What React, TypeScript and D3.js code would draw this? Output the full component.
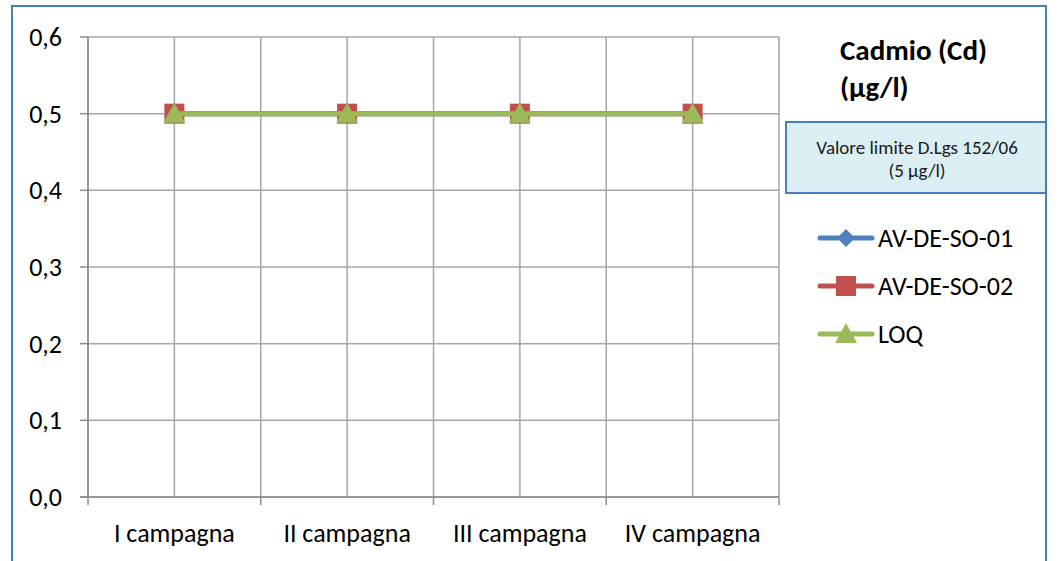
import * as d3 from "d3";

const categories = ["I campagna", "II campagna", "III campagna", "IV campagna"];
const yTicks = [0, 0.1, 0.2, 0.3, 0.4, 0.5, 0.6];
const seriesNames = ["AV-DE-SO-01", "AV-DE-SO-02", "LOQ"];
const so01 = [0.5, 0.5, 0.5, 0.5];
const so02 = [0.5, 0.5, 0.5, 0.5];
const loq = [0.5, 0.5, 0.5, 0.5];

const colors = ["#4f81bd", "#c0504d", "#9bbb59"];
const font = "Carlito, Lato, 'Open Sans', sans-serif";

function Marker({ kind, x, y, color }: { kind: number; x: number; y: number; color: string }) {
  if (kind === 0) {
    const s = 9;
    return <path d={`M${x},${y - s}L${x + s},${y}L${x},${y + s}L${x - s},${y}Z`} fill={color} />;
  }
  if (kind === 1) {
    return <rect x={x - 10} y={y - 10} width={20} height={20} fill={color} />;
  }
  return <path d={`M${x},${y - 11}L${x + 11},${y + 9}L${x - 11},${y + 9}Z`} fill={color} />;
}

export default function App() {
  const left = 88;
  const right = 779;
  const top = 37;
  const bottom = 497;

  const x = d3.scaleBand<string>().domain(categories).range([left, right]);
  const y = d3.scaleLinear().domain([0, 0.6]).range([bottom, top]);
  const cx = (c: string) => (x(c) ?? 0) + x.bandwidth() / 2;

  const line = d3
    .line<number>()
    .x((_, i) => cx(categories[i]))
    .y((d) => y(d));

  const data = [so01, so02, loq];

  // gridlines at every category boundary and centre
  const vGrid: number[] = [];
  categories.forEach((c) => {
    vGrid.push(x(c) ?? 0);
    vGrid.push(cx(c));
  });
  vGrid.push(right);

  return (
    <svg
      width={1062}
      height={561}
      style={{ position: "absolute", left: 0, top: 0, background: "#fff" }}
      fontFamily={font}
    >
      <rect x={12} y={6} width={1034} height={570} fill="#fff" stroke="#4a7ebb" strokeWidth={2} />

      {yTicks.map((t) => (
        <line key={"h" + t} x1={left} x2={right} y1={y(t)} y2={y(t)} stroke="#a6a6a6" strokeWidth={1.5} />
      ))}
      {vGrid.map((g, i) => (
        <line key={"v" + i} x1={g} x2={g} y1={top} y2={bottom} stroke="#a6a6a6" strokeWidth={1.5} />
      ))}

      <line x1={left} x2={left} y1={top} y2={bottom + 8} stroke="#8c8c8c" strokeWidth={1.5} />
      <line x1={left - 8} x2={right} y1={bottom} y2={bottom} stroke="#8c8c8c" strokeWidth={1.5} />
      {yTicks.map((t) => (
        <g key={"yt" + t}>
          <line x1={left - 8} x2={left} y1={y(t)} y2={y(t)} stroke="#8c8c8c" strokeWidth={1.5} />
          <text x={62} y={y(t)} dy="0.35em" textAnchor="end" fontSize={26} fill="#000">
            {t.toFixed(1).replace(".", ",")}
          </text>
        </g>
      ))}
      {categories.map((c) => (
        <g key={c}>
          <line x1={(x(c) ?? 0) + x.bandwidth()} x2={(x(c) ?? 0) + x.bandwidth()} y1={bottom} y2={bottom + 8} stroke="#8c8c8c" strokeWidth={1.5} />
          <text x={cx(c)} y={533} dy="0.35em" textAnchor="middle" fontSize={26} fill="#000">
            {c}
          </text>
        </g>
      ))}

      {data.map((vals, k) => (
        <g key={"s" + k}>
          <path d={line(vals) ?? ""} fill="none" stroke={colors[k]} strokeWidth={5} />
          {vals.map((v, i) => (
            <Marker key={i} kind={k} x={cx(categories[i])} y={y(v)} color={colors[k]} />
          ))}
        </g>
      ))}

      <text x={840} y={60} fontSize={29} fontWeight="bold" fill="#000">Cadmio (Cd)</text>
      <text x={840} y={97} fontSize={29} fontWeight="bold" fill="#000">(µg/l)</text>

      <rect x={786} y={122} width={260} height={71} fill="#dbeef4" stroke="#4a7ebb" strokeWidth={2} />
      <text x={917} y={147} dy="0.35em" textAnchor="middle" fontSize={19} fill="#1a1a1a">Valore limite D.Lgs 152/06</text>
      <text x={917} y={170} dy="0.35em" textAnchor="middle" fontSize={19} fill="#1a1a1a">(5 µg/l)</text>

      {seriesNames.map((n, k) => {
        const ly = 238 + k * 48;
        return (
          <g key={n}>
            <line x1={820} x2={872} y1={ly} y2={ly} stroke={colors[k]} strokeWidth={5} strokeLinecap="round" />
            <Marker kind={k} x={846} y={ly} color={colors[k]} />
            <text x={878} y={ly} dy="0.35em" fontSize={26} fill="#000">{n}</text>
          </g>
        );
      })}
    </svg>
  );
}
